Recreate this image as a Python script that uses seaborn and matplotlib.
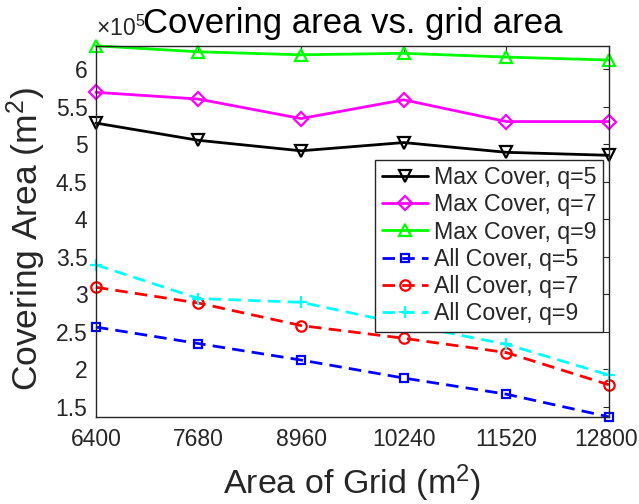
import numpy as np
import pandas as pd
import matplotlib
matplotlib.use("Agg")
import matplotlib.pyplot as plt
from matplotlib.ticker import FuncFormatter, FixedLocator
from matplotlib.transforms import ScaledTranslation
import seaborn as sns

# Grid areas (m^2) on the x axis
grid_area = [6400, 7680, 8960, 10240, 11520, 12800]

# Covering area (m^2) for each strategy / q value
max_cover_q5 = [5.28e5, 5.05e5, 4.91e5, 5.02e5, 4.89e5, 4.85e5]
max_cover_q7 = [5.69e5, 5.60e5, 5.34e5, 5.59e5, 5.30e5, 5.30e5]
max_cover_q9 = [6.31e5, 6.23e5, 6.19e5, 6.21e5, 6.16e5, 6.12e5]
all_cover_q5 = [2.56e5, 2.34e5, 2.12e5, 1.88e5, 1.665e5, 1.363e5]
all_cover_q7 = [3.09e5, 2.88e5, 2.58e5, 2.41e5, 2.22e5, 1.79e5]
all_cover_q9 = [3.39e5, 2.94e5, 2.89e5, 2.60e5, 2.33e5, 1.92e5]

labels = ["Max Cover, q=5", "Max Cover, q=7", "Max Cover, q=9",
          "All Cover, q=5", "All Cover, q=7", "All Cover, q=9"]
series = [max_cover_q5, max_cover_q7, max_cover_q9,
          all_cover_q5, all_cover_q7, all_cover_q9]
colors = ["#000000", "#ff00ff", "#00ff00", "#0000ff", "#ff0000", "#00ffff"]
markers = ["v", "D", "^", "s", "o", "+"]
msizes = [8, 7, 8, 6, 7.5, 9]
dashed = [False, False, False, True, True, True]

sns.set_theme(style="white")
plt.rcParams["font.family"] = ["Liberation Sans", "DejaVu Sans"]
plt.rcParams["mathtext.fontset"] = "custom"
plt.rcParams["mathtext.rm"] = "Liberation Sans"
plt.rcParams["mathtext.it"] = "Liberation Sans:italic"

fig = plt.figure(figsize=(6.39, 5.04), dpi=100)
ax = fig.add_axes([0.150, 0.173, 0.8028, 0.7361])

frames = []
for lab, vals in zip(labels, series):
    frames.append(pd.DataFrame({"grid": grid_area, "cover": vals, "series": lab}))
df = pd.concat(frames, ignore_index=True)

for lab, col, mk, ms in zip(labels, colors, markers, msizes):
    sub = df[df["series"] == lab]
    sns.lineplot(data=sub, x="grid", y="cover", ax=ax, color=col,
                 marker=mk, markersize=ms, markerfacecolor="none",
                 markeredgecolor=col, markeredgewidth=1.6,
                 linewidth=2.0, label=lab, errorbar=None, sort=False,
                 clip_on=False)

for line, dsh in zip(ax.get_lines(), dashed):
    if dsh:
        line.set_dashes((4.5, 2.6))

dark = "#262626"
scale = 1e5
ax.set_xlim(6400, 12800)
ax.set_ylim(min(all_cover_q5), max(max_cover_q9))
ax.xaxis.set_major_locator(FixedLocator(grid_area))
ax.yaxis.set_major_locator(FixedLocator(np.arange(1.5e5, 6.01e5, 0.5e5)))
ax.yaxis.set_major_formatter(FuncFormatter(lambda v, p: f"{v / scale:g}"))
ax.text(0.0, 1.012, r"$\times$10$^5$", transform=ax.transAxes,
        ha="left", va="bottom", fontsize=16.5, color=dark)

for sp in ax.spines.values():
    sp.set_visible(True)
    sp.set_color(dark)
    sp.set_linewidth(1.0)
ax.tick_params(axis="both", direction="in", length=4, width=0.8,
               top=True, right=True, colors=dark, labelsize=16.5)
ax.tick_params(axis="x", pad=8)
ax.tick_params(axis="y", pad=6)

# keep the last x tick label inside the canvas
last_label = ax.xaxis.get_major_ticks()[-1].label1
last_label.set_transform(last_label.get_transform()
                         + ScaledTranslation(-0.025, 0, fig.dpi_scale_trans))

ax.set_xlabel("Area of Grid (m$^2$)", fontsize=24.5, color=dark, labelpad=8)
ax.set_ylabel("Covering Area (m$^2$)", fontsize=25.5, color=dark)
ax.yaxis.set_label_coords(-0.093, 0.48)
ax.set_title("Covering area vs. grid area", fontsize=25, color="black",
             y=1.035, pad=0)

leg = ax.legend(loc="upper right", bbox_to_anchor=(0.988, 0.693),
                borderaxespad=0, fontsize=16.7, frameon=True, fancybox=False,
                framealpha=1, edgecolor=dark, handlelength=2.0,
                handletextpad=0.25, labelspacing=0.18, borderpad=0.28,
                numpoints=1)
leg.get_frame().set_linewidth(1.0)

fig.savefig("out.png", dpi=100)
